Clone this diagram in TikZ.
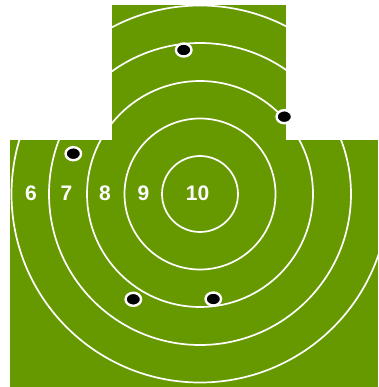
\documentclass[tikz,border=0pt]{standalone}
\usepackage{fontspec}
\usetikzlibrary{shapes.geometric}
\setmainfont{Liberation Sans}
\definecolor{target}{HTML}{669900}
\begin{document}
\begin{tikzpicture}[x=1pt,y=-1pt,
  ring/.style={draw=white,line width=1.7pt},
  hole/.style={ellipse,fill=black,draw=white,line width=2.4pt,minimum width=15.5pt,minimum height=13pt,inner sep=0pt},
  score/.style={text=white,font=\bfseries\fontsize{21}{21}\selectfont,inner sep=0pt}]
\useasboundingbox (0,0) rectangle (378,387);
\fill[target] (112,5) rectangle (286,141);
\fill[target] (10,140) rectangle (378,387);
\coordinate (c) at (200,194);
\begin{scope}
\clip (112,5) rectangle (286,141) (10,140) rectangle (378,387);
\foreach \r in {38,75.5,113,151,188.5}{\draw[ring] (c) circle[radius=\r];}
\end{scope}
\node[score] (s6) at (31,193.5) {6};
\node[score] (s7) at (66.5,193.5) {7};
\node[score] (s8) at (105,193.5) {8};
\node[score] (s9) at (143.5,193.5) {9};
\node[score] (s10) at (197.5,193.5) {10};
\node[hole] (h1) at (183.7,50) {};
\node[hole] (h2) at (284.3,116.7) {};
\node[hole] (h3) at (73.3,153.7) {};
\node[hole] (h4) at (133.3,299.3) {};
\node[hole] (h5) at (213.3,299) {};
\end{tikzpicture}
\end{document}
